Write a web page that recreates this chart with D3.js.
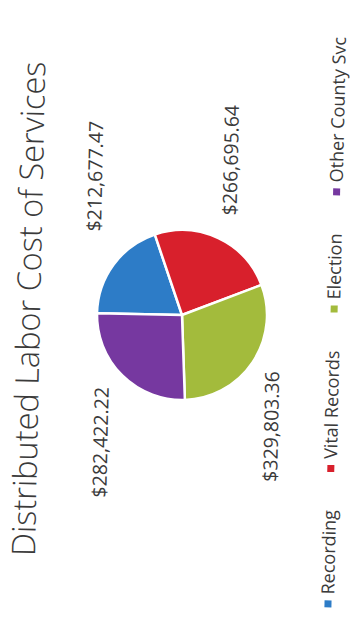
<!DOCTYPE html>
<html>
<head>
<meta charset="utf-8">
<script src="https://cdn.jsdelivr.net/npm/d3@7"></script>
<style>
  html, body { margin: 0; padding: 0; background: #fff; }
  svg { display: block; }
  text { font-family: "Open Sans", "Noto Sans", sans-serif; fill: #3a3a3a; }
</style>
</head>
<body>
<svg id="chart" width="351" height="628"></svg>
<script>
// Labor cost split by service
const categories = ["Recording", "Vital Records", "Election", "Other County Svc"];
const costs = [212677.47, 266695.64, 329803.36, 282422.22];
const sliceColors = ["#2d7cc7", "#d8202c", "#a3bb3c", "#7638a0"];
const titleText = "Distributed Labor Cost of Services";

// Layout (the sheet is printed in landscape and turned on its side)
const W = 351, H = 628;
const center = [182, 315];
const tilt = -88.8;
const radius = 85;
const labelRadius = radius * 1.7;
// per-label shifts away from the centroid ring, [along, across]
const labelShift = [[54, 28], [24, -14], [-32, -31], [-24, 20]];

const svg = d3.select("#chart");
svg.append("rect").attr("width", W).attr("height", H).attr("fill", "#fff");

const g = svg.append("g")
  .attr("transform", `translate(${center[0]},${center[1]}) rotate(${tilt})`);

const data = categories.map((c, i) => ({ name: c, value: costs[i], color: sliceColors[i] }));

const pie = d3.pie().value(d => d.value).sort(null);
const arcs = pie(data);

const arc = d3.arc().innerRadius(0).outerRadius(radius);
const labelArc = d3.arc().innerRadius(labelRadius).outerRadius(labelRadius);

// slices
g.append("g").selectAll("path")
  .data(arcs)
  .join("path")
  .attr("d", arc)
  .attr("fill", d => d.data.color)
  .attr("stroke", "#fff")
  .attr("stroke-width", 2.5)
  .attr("stroke-linejoin", "round");

// value labels
const fmt = d3.format("$,.2f");
g.append("g").selectAll("text")
  .data(arcs)
  .join("text")
  .attr("transform", (d, i) => {
    const [x, y] = labelArc.centroid(d);
    return `translate(${x + labelShift[i][0]},${y + labelShift[i][1]})`;
  })
  .attr("text-anchor", "middle")
  .attr("dominant-baseline", "central")
  .style("font-size", "19.5px")
  .text(d => fmt(d.data.value));

// title
g.append("text")
  .attr("x", 3)
  .attr("y", -142)
  .attr("text-anchor", "middle")
  .style("font-size", "32.5px")
  .style("font-weight", 300)
  .text(titleText);

// legend row, centred under the pie
const legend = g.append("g").attr("class", "legend");
const swatch = 7, swatchGap = 6, itemGap = 38, legendBaseline = 158;
const items = legend.selectAll("g")
  .data(data)
  .join("g");
items.append("rect")
  .attr("width", swatch)
  .attr("height", swatch)
  .attr("y", legendBaseline - 6 - swatch / 2)
  .attr("fill", d => d.color);
items.append("text")
  .attr("x", swatch + swatchGap)
  .attr("y", legendBaseline)
  .style("font-size", "18px")
  .text(d => d.name);

let cursor = 0;
const offsets = [];
items.each(function () {
  offsets.push(cursor);
  const w = d3.select(this).select("text").node().getComputedTextLength();
  cursor += swatch + swatchGap + w + itemGap;
});
const total = cursor - itemGap;
items.attr("transform", (d, i) => `translate(${-4 - total / 2 + offsets[i]},0)`);
</script>
</body>
</html>
